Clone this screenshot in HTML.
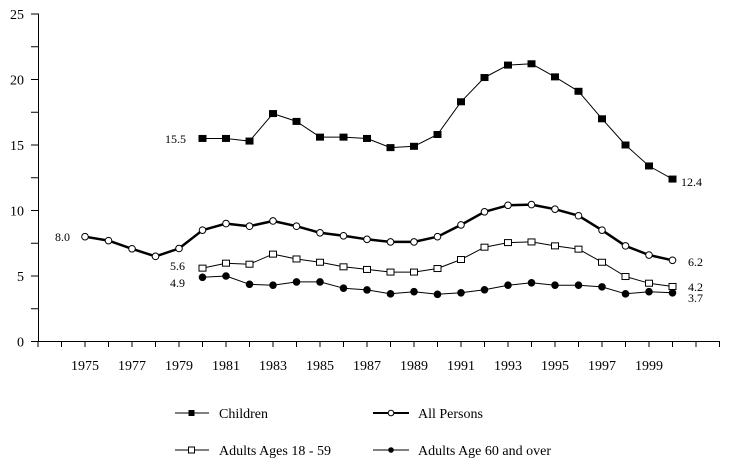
<!DOCTYPE html>
<html><head><meta charset="utf-8"><style>
html,body{margin:0;padding:0;background:#fff}
svg{display:block}
text{font-family:"Liberation Serif",serif;fill:#000}
</style></head><body>
<svg width="750" height="469" viewBox="0 0 750 469" xmlns="http://www.w3.org/2000/svg">
<g id="axes" stroke="#000" stroke-width="1" fill="none">
<line x1="38.5" y1="13.5" x2="38.5" y2="341.5"/>
<line x1="38.5" y1="341.5" x2="720" y2="341.5"/>
</g>
<g id="yt" stroke="#000"></g>
<g id="xt" stroke="#000"></g>
<g font-size="14" text-anchor="end" id="yl"></g>
<g font-size="14" text-anchor="middle" id="xl"></g>
<g id="series"></g>
<g font-size="12">
<text x="186" y="143" text-anchor="end">15.5</text>
<text x="70" y="241" text-anchor="end">8.0</text>
<text x="185" y="270" text-anchor="end">5.6</text>
<text x="185" y="287" text-anchor="end">4.9</text>
<text x="681" y="186">12.4</text>
<text x="688" y="266">6.2</text>
<text x="688" y="291">4.2</text>
<text x="688" y="302">3.7</text>
</g>
<g font-size="14">
<line x1="175" y1="413" x2="209" y2="413" stroke="#000"/><rect x="188.5" y="410" width="6" height="6" fill="#000"/>
<text x="219" y="418">Children</text>
<line x1="373" y1="413" x2="409" y2="413" stroke="#000" stroke-width="2"/><circle cx="391" cy="413" r="2.8" fill="#fff" stroke="#000"/>
<text x="418" y="418">All Persons</text>
<line x1="175" y1="450" x2="209" y2="450" stroke="#000"/><rect x="188.5" y="447" width="6" height="6" fill="#fff" stroke="#000"/>
<text x="219" y="455">Adults Ages 18 - 59</text>
<line x1="373" y1="450" x2="409" y2="450" stroke="#000"/><circle cx="391" cy="450" r="2.8" fill="#000"/>
<text x="418" y="455">Adults Age 60 and over</text>
</g>
</svg>
<script>
const NS="http://www.w3.org/2000/svg";
const X=y=>85+23.5*(y-1975), Y=v=>341.5-13.1*v;
function el(p,t,a,txt){const e=document.createElementNS(NS,t);for(const k in a)e.setAttribute(k,a[k]);if(txt)e.textContent=txt;document.getElementById(p).appendChild(e);return e;}
for(let v=0;v<=25;v+=2.5){el("yt","line",{x1:31,x2:38.5,y1:Y(v),y2:Y(v)});if(v%5==0)el("yl","text",{x:24,y:Y(v)+5},String(v));}
for(let y=1973;y<=2002;y++){el("xt","line",{x1:X(y),x2:X(y),y1:341.5,y2:347});if(y%2==1&&y>=1975&&y<=1999)el("xl","text",{x:X(y),y:370},String(y));}
const S=[
{s:1980,v:[15.5,15.5,15.3,17.4,16.8,15.6,15.6,15.5,14.8,14.9,15.8,18.3,20.15,21.1,21.2,20.2,19.1,17.0,15.0,13.4,12.4],m:"sq",f:"#000",w:1},
{s:1975,v:[8.0,7.7,7.08,6.5,7.1,8.5,9.0,8.8,9.2,8.8,8.3,8.07,7.8,7.6,7.6,8.0,8.9,9.9,10.4,10.45,10.1,9.6,8.5,7.3,6.6,6.2],m:"c",f:"#fff",w:2.5},
{s:1980,v:[5.6,5.98,5.9,6.67,6.3,6.05,5.7,5.5,5.3,5.3,5.57,6.26,7.2,7.55,7.6,7.3,7.05,6.05,4.96,4.45,4.2],m:"sq",f:"#fff",w:1},
{s:1980,v:[4.9,5.0,4.37,4.3,4.55,4.55,4.07,3.94,3.64,3.8,3.6,3.72,3.95,4.3,4.48,4.3,4.3,4.17,3.64,3.8,3.72],m:"c",f:"#000",w:1}];
for(const s of S){const pts=s.v.map((v,i)=>X(s.s+i).toFixed(1)+","+Y(v).toFixed(1)).join(" ");
el("series","polyline",{points:pts,fill:"none",stroke:"#000","stroke-width":s.w,"stroke-linejoin":"round"});
s.v.forEach((v,i)=>{const x=X(s.s+i),y=Y(v);
if(s.m=="sq")el("series","rect",{x:x-3.5,y:y-3,width:7,height:6,fill:s.f,stroke:"#000","stroke-width":1});
else el("series","circle",{cx:x,cy:y,r:3.3,fill:s.f,stroke:"#000","stroke-width":1});});}
</script>
</body></html>
